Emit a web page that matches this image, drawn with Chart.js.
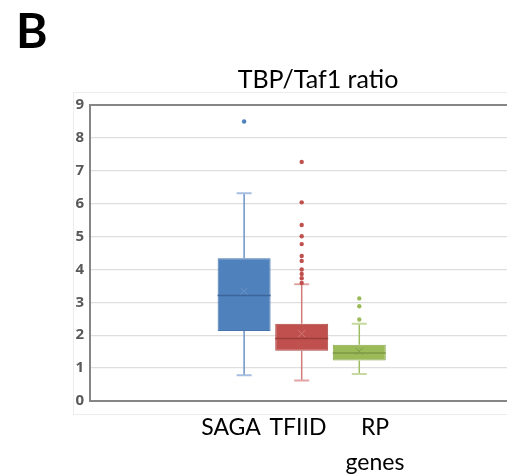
<!DOCTYPE html>
<html>
<head>
<meta charset="utf-8">
<script src="https://cdn.jsdelivr.net/npm/chart.js@4/dist/chart.umd.min.js"></script>
<style>
  html, body { margin: 0; padding: 0; background: #ffffff; overflow: hidden; width: 507px; height: 476px; }
  #wrap { position: absolute; left: 0; top: 0; width: 520px; height: 476px; }
</style>
</head>
<body>
<div id="wrap"><canvas id="c" width="520" height="476"></canvas></div>
<script>
// ---- data ----
const categories = ['SAGA', 'TFIID', 'RP genes'];
const q1Values     = [2.13, 1.53, 1.23];
const q3Values     = [4.34, 2.35, 1.71];
const medianValues = [3.21, 1.90, 1.46];
const meanValues   = [3.34, 2.05, 1.51];
const minValues    = [0.78, 0.62, 0.82];
const maxValues    = [6.32, 3.55, 2.35];
const outlierValues = [
  [8.50],
  [7.27, 6.04, 5.35, 5.01, 4.77, 4.41, 4.26, 4.00, 3.86, 3.73, 3.59],
  [3.12, 2.88, 2.48]
];
const yTicks = [0, 1, 2, 3, 4, 5, 6, 7, 8, 9];
const titleText = 'TBP/Taf1 ratio';
const panelLabel = 'B';

// ---- styles ----
const fills    = ['#4f81bd', '#c0504d', '#9bbb59'];
const borders  = ['#4674ab', '#ad4744', '#8ba94f'];
const medians  = ['#3c659a', '#9c3c3a', '#7b9a44'];
const meanCols = ['#6d90c2', '#cf7a78', '#7f9c48'];
const whiskers = ['#6f93c6', '#cf7c7a', '#9fbd62'];
const caps     = ['#a7bfe0', '#e0a5a3', '#c5d9a0'];

const datasets = categories.map((c, i) => ({
  label: c,
  data: [[q1Values[i], q3Values[i]]],
  backgroundColor: fills[i],
  borderColor: borders[i],
  borderWidth: 1,
  borderSkipped: false,
  categoryPercentage: 0.408,
  barPercentage: 0.92
}));

const boxPlugin = {
  id: 'boxExtras',
  beforeDraw(chart) {
    const ctx = chart.ctx;
    ctx.save();
    ctx.fillStyle = '#ffffff';
    ctx.fillRect(0, 0, chart.width, chart.height);
    ctx.strokeStyle = '#ececec';
    ctx.lineWidth = 1;
    ctx.strokeRect(73.5, 92.5, 500, 322);
    ctx.restore();
  },
  afterDatasetsDraw(chart) {
    const ctx = chart.ctx;
    const y = chart.scales.y;
    ctx.save();
    categories.forEach((c, i) => {
      const el = chart.getDatasetMeta(i).data[0];
      const x = el.x, w = el.width;
      const capW = 15;
      ctx.strokeStyle = whiskers[i];
      ctx.lineWidth = 1.5;
      ctx.beginPath();
      ctx.moveTo(x, y.getPixelForValue(q3Values[i]));
      ctx.lineTo(x, y.getPixelForValue(maxValues[i]));
      ctx.moveTo(x, y.getPixelForValue(q1Values[i]));
      ctx.lineTo(x, y.getPixelForValue(minValues[i]));
      ctx.stroke();
      ctx.strokeStyle = caps[i];
      ctx.lineWidth = 2;
      ctx.beginPath();
      ctx.moveTo(x - capW / 2, y.getPixelForValue(maxValues[i]));
      ctx.lineTo(x + capW / 2, y.getPixelForValue(maxValues[i]));
      ctx.moveTo(x - capW / 2, y.getPixelForValue(minValues[i]));
      ctx.lineTo(x + capW / 2, y.getPixelForValue(minValues[i]));
      ctx.stroke();
      ctx.strokeStyle = medians[i];
      ctx.lineWidth = 1.5;
      ctx.beginPath();
      const my = y.getPixelForValue(medianValues[i]);
      ctx.moveTo(x - w / 2, my);
      ctx.lineTo(x + w / 2, my);
      ctx.stroke();
      const mny = y.getPixelForValue(meanValues[i]);
      ctx.strokeStyle = meanCols[i];
      ctx.lineWidth = 1;
      ctx.beginPath();
      ctx.moveTo(x - 3.5, mny - 3.5); ctx.lineTo(x + 3.5, mny + 3.5);
      ctx.moveTo(x + 3.5, mny - 3.5); ctx.lineTo(x - 3.5, mny + 3.5);
      ctx.stroke();
      ctx.fillStyle = fills[i];
      outlierValues[i].forEach(v => {
        ctx.beginPath();
        ctx.arc(x, y.getPixelForValue(v), 2.2, 0, Math.PI * 2);
        ctx.fill();
      });
    });
    const a = chart.chartArea;
    ctx.strokeStyle = '#868686';
    ctx.lineWidth = 2;
    ctx.beginPath();
    ctx.moveTo(a.left, a.top);
    ctx.lineTo(a.right, a.top);
    ctx.stroke();
    ctx.restore();
  },
  afterDraw(chart) {
    const ctx = chart.ctx;
    ctx.save();
    ctx.fillStyle = '#000000';
    ctx.textBaseline = 'alphabetic';
    ctx.textAlign = 'left';
    ctx.font = 'bold 48px Lato';
    ctx.fillText(panelLabel, 16, 47.5);
    ctx.textAlign = 'center';
    ctx.font = '25px Lato';
    ctx.fillText(titleText, 318, 88);
    ctx.font = '23px Lato';
    ctx.fillText('SAGA', 231, 435);
    ctx.fillText('TFIID', 298, 435);
    ctx.fillText('RP', 375, 435);
    ctx.fillText('genes', 375, 470);
    ctx.restore();
  }
};

new Chart(document.getElementById('c'), {
  type: 'bar',
  data: { labels: [titleText], datasets },
  options: {
    responsive: false,
    animation: false,
    layout: { padding: { top: 105, bottom: 67, left: 50, right: 6.6 } },
    plugins: { legend: { display: false }, title: { display: false }, tooltip: { enabled: false } },
    scales: {
      x: {
        ticks: { display: false },
        grid: { display: false },
        border: { display: true, color: '#868686', width: 2 }
      },
      y: {
        min: 0, max: 9,
        afterFit(s) { s.width = 40; },
        afterBuildTicks(s) { s.ticks = yTicks.map(v => ({ value: v })); },
        ticks: { padding: 6, color: '#595959', font: { family: 'Open Sans', weight: 'bold', size: 15 } },
        grid: { color: '#dedede', lineWidth: 1.3, drawTicks: false },
        border: { display: true, color: '#868686', width: 2 }
      }
    }
  },
  plugins: [boxPlugin]
});
</script>
</body>
</html>
